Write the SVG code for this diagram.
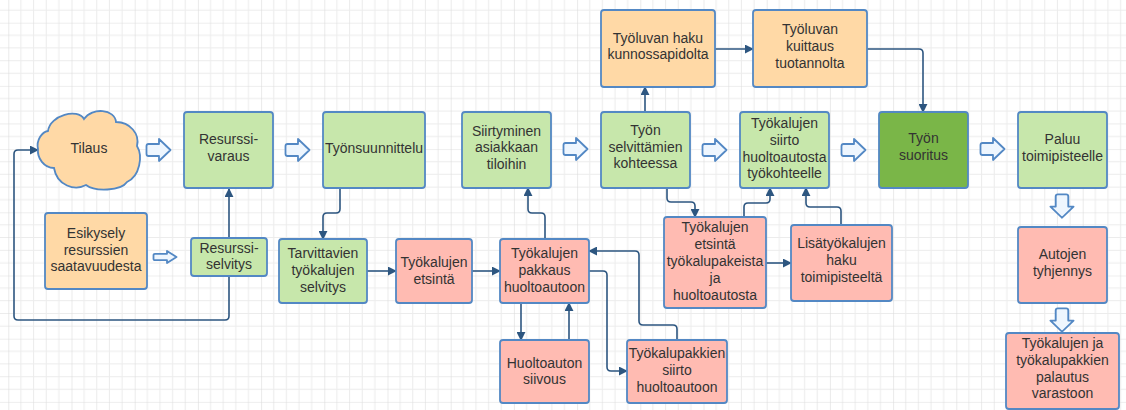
<svg xmlns="http://www.w3.org/2000/svg" width="1126" height="410" viewBox="0 0 1126 410">
  <defs>
    <pattern id="grid" patternUnits="userSpaceOnUse" x="8.3" y="22.7" width="63.2" height="63.2">
      <path d="M12.64 0V63.2M25.28 0V63.2M37.92 0V63.2M50.56 0V63.2M0 12.64H63.2M0 25.28H63.2M0 37.92H63.2M0 50.56H63.2" stroke="#ececec" stroke-width="1" fill="none"/>
      <path d="M0 0V63.2M0 0H63.2" stroke="#dddddd" stroke-width="1.2" fill="none"/>
    </pattern>
    <marker id="arr" viewBox="0 0 10 10" refX="9" refY="5" markerWidth="9" markerHeight="9" markerUnits="userSpaceOnUse" orient="auto">
      <path d="M0 0L10 5L0 10Z" fill="#2d5680"/>
    </marker>
    <!-- hollow block arrow, pointing right, 25 long -->
    <path id="blk" d="M2.5 -6H13V-11L24.5 0L13 11V6H2.5Q0.5 6 0.5 4V-4Q0.5 -6 2.5 -6Z"/>
    <path id="blkS" d="M2 -3.2H14V-6L23.5 0L14 6V3.2H2Q0.5 3.2 0.5 1.7V-1.7Q0.5 -3.2 2 -3.2Z"/>
  </defs>
  <style>
    .box { stroke: #5388c4; stroke-width: 1.8; }
    .g { fill: #c7e7ab; }
    .dg { fill: #7ab648; }
    .o { fill: #ffd9a6; }
    .p { fill: #ffbbb2; }
    text { font-family: "Liberation Sans", Arial, sans-serif; font-size: 14px; fill: #333333; text-anchor: middle; }
    .con path { fill: none; stroke: #2d5680; stroke-width: 1.6; marker-end: url(#arr); }
    .ha use { fill: #eef6fe; stroke: #5388c4; stroke-width: 1.8; stroke-linejoin: round; }
  </style>

  <rect width="1126" height="410" fill="#ffffff"/>
  <rect width="1126" height="410" fill="url(#grid)"/>

  <!-- block arrows between stages -->
  <g class="ha">
    <use href="#blk" transform="translate(146 150)"/>
    <use href="#blk" transform="translate(285 150)"/>
    <use href="#blk" transform="translate(563 149)"/>
    <use href="#blk" transform="translate(702 150)"/>
    <use href="#blk" transform="translate(841 150)"/>
    <use href="#blk" transform="translate(980 149)"/>
    <use href="#blkS" transform="translate(153 257)"/>
    <use href="#blk" transform="translate(1062 194) rotate(90) scale(0.97 1.05)"/>
    <use href="#blk" transform="translate(1062 308) rotate(90) scale(0.97 1.05)"/>
  </g>

  <!-- connectors -->
  <g class="con">
    <path d="M229 238V189"/>
    <path d="M229 276V316Q229 320 225 320H18Q14 320 14 316V154Q14 150 18 150H38"/>
    <path d="M340 188V209Q340 213 336 213H327Q323 213 323 217V239"/>
    <path d="M367 271H396"/>
    <path d="M472 271H500"/>
    <path d="M545 239V217Q545 213 541 213H532Q528 213 528 209V188"/>
    <path d="M521 303V340"/>
    <path d="M569 340V303"/>
    <path d="M589 271H603Q607 271 607 275V367Q607 371 611 371H627"/>
    <path d="M677 340V329Q677 325 673 325H643Q639 325 639 321V255Q639 251 635 251H589"/>
    <path d="M645 112V87"/>
    <path d="M715 49H753"/>
    <path d="M867 49H919Q923 49 923 53V112"/>
    <path d="M667 188V198Q667 202 671 202H691Q695 202 695 206V217"/>
    <path d="M744 217V207Q744 203 748 203H766Q770 203 770 199V188"/>
    <path d="M841 225V211Q841 207 837 207H810Q806 207 806 203V188"/>
    <path d="M766 263H791"/>
  </g>

  <g id="tilaus">
    <path class="box o" d="M38 149C36 140 42 132 48 131C50 115 78 108 84 119C92 107 115 109 116 122C130 122 140 134 137 146C143 156 140 176 127 182C121 191 95 192 86 185C75 191 57 186 54 168C44 168 37 158 38 149Z"/>
    <text x="89" y="153">Tilaus</text>
  </g>
  <g id="resurssivaraus">
    <rect class="box g" x="184" y="112" width="89" height="76" rx="3"/>
    <text x="228.5"><tspan x="228.5" y="144">Resurssi-</tspan><tspan x="228.5" y="161">varaus</tspan></text>
  </g>
  <g id="tyonsuunnittelu">
    <rect class="box g" x="323" y="112" width="102" height="76" rx="3"/>
    <text x="374" y="153">Työnsuunnittelu</text>
  </g>
  <g id="esikysely">
    <rect class="box o" x="45" y="213" width="102" height="76" rx="3"/>
    <text><tspan x="96" y="238">Esikysely</tspan><tspan x="96" y="255">resurssien</tspan><tspan x="96" y="271">saatavuudesta</tspan></text>
  </g>
  <g id="resurssiselvitys">
    <rect class="box g" x="191" y="238" width="76" height="38" rx="3"/>
    <text><tspan x="229" y="253">Resurssi-</tspan><tspan x="229" y="269">selvitys</tspan></text>
  </g>
  <g id="tarvittavien">
    <rect class="box g" x="279" y="239" width="88" height="64" rx="3"/>
    <text><tspan x="323" y="258">Tarvittavien</tspan><tspan x="323" y="275">työkalujen</tspan><tspan x="323" y="292">selvitys</tspan></text>
  </g>
  <g id="etsinta">
    <rect class="box p" x="396" y="239" width="76" height="64" rx="3"/>
    <text><tspan x="434" y="267">Työkalujen</tspan><tspan x="434" y="284">etsintä</tspan></text>
  </g>
  <g id="pakkaus">
    <rect class="box p" x="500" y="239" width="89" height="64" rx="3"/>
    <text><tspan x="544.5" y="258">Työkalujen</tspan><tspan x="544.5" y="275">pakkaus</tspan><tspan x="544.5" y="292">huoltoautoon</tspan></text>
  </g>
  <g id="siivous">
    <rect class="box p" x="500" y="340" width="89" height="63" rx="3"/>
    <text><tspan x="544.5" y="368">Huoltoauton</tspan><tspan x="544.5" y="384">siivous</tspan></text>
  </g>
  <g id="pakkienSiirto">
    <rect class="box p" x="627" y="340" width="100" height="63" rx="3"/>
    <text><tspan x="677" y="358">Työkalupakkien</tspan><tspan x="677" y="375">siirto</tspan><tspan x="677" y="392">huoltoautoon</tspan></text>
  </g>
  <g id="siirtyminen">
    <rect class="box g" x="462" y="112" width="89" height="76" rx="3"/>
    <text><tspan x="506.5" y="136">Siirtyminen</tspan><tspan x="506.5" y="152">asiakkaan</tspan><tspan x="506.5" y="169">tiloihin</tspan></text>
  </g>
  <g id="selvittamien">
    <rect class="box g" x="601" y="112" width="89" height="76" rx="3"/>
    <text><tspan x="645.5" y="135">Työn</tspan><tspan x="645.5" y="152">selvittämien</tspan><tspan x="645.5" y="168">kohteessa</tspan></text>
  </g>
  <g id="lupaHaku">
    <rect class="box o" x="601" y="10" width="114" height="77" rx="3"/>
    <text><tspan x="658" y="43">Työluvan haku</tspan><tspan x="658" y="59">kunnossapidolta</tspan></text>
  </g>
  <g id="lupaKuittaus">
    <rect class="box o" x="753" y="10" width="114" height="77" rx="3"/>
    <text><tspan x="810" y="34">Työluvan</tspan><tspan x="810" y="51">kuittaus</tspan><tspan x="810" y="68">tuotannolta</tspan></text>
  </g>
  <g id="tyokohteelle">
    <rect class="box g" x="740" y="112" width="89" height="76" rx="3"/>
    <text><tspan x="784.5" y="128">Työkalujen</tspan><tspan x="784.5" y="145">siirto</tspan><tspan x="784.5" y="162">huoltoautosta</tspan><tspan x="784.5" y="178">työkohteelle</tspan></text>
  </g>
  <g id="pakeista">
    <rect class="box p" x="664" y="217" width="102" height="91" rx="3"/>
    <text><tspan x="715" y="232">Työkalujen</tspan><tspan x="715" y="249">etsintä</tspan><tspan x="715" y="266">työkalupakeista</tspan><tspan x="715" y="283">ja</tspan><tspan x="715" y="300">huoltoautosta</tspan></text>
  </g>
  <g id="lisatyokalut">
    <rect class="box p" x="791" y="225" width="101" height="76" rx="3"/>
    <text><tspan x="841.5" y="248">Lisätyökalujen</tspan><tspan x="841.5" y="265">haku</tspan><tspan x="841.5" y="282">toimipisteeltä</tspan></text>
  </g>
  <g id="suoritus">
    <rect class="box dg" x="879" y="112" width="89" height="76" rx="3"/>
    <text><tspan x="923.5" y="143">Työn</tspan><tspan x="923.5" y="160">suoritus</tspan></text>
  </g>
  <g id="paluu">
    <rect class="box g" x="1018" y="112" width="89" height="76" rx="3"/>
    <text><tspan x="1062.5" y="144">Paluu</tspan><tspan x="1062.5" y="161">toimipisteelle</tspan></text>
  </g>
  <g id="tyhjennys">
    <rect class="box p" x="1018" y="227" width="89" height="76" rx="3"/>
    <text><tspan x="1062.5" y="259">Autojen</tspan><tspan x="1062.5" y="276">tyhjennys</tspan></text>
  </g>
  <g id="palautus">
    <rect class="box p" x="1006" y="333" width="113" height="76" rx="3"/>
    <text><tspan x="1062.5" y="348">Työkalujen ja</tspan><tspan x="1062.5" y="365">työkalupakkien</tspan><tspan x="1062.5" y="382">palautus</tspan><tspan x="1062.5" y="398">varastoon</tspan></text>
  </g>
</svg>
